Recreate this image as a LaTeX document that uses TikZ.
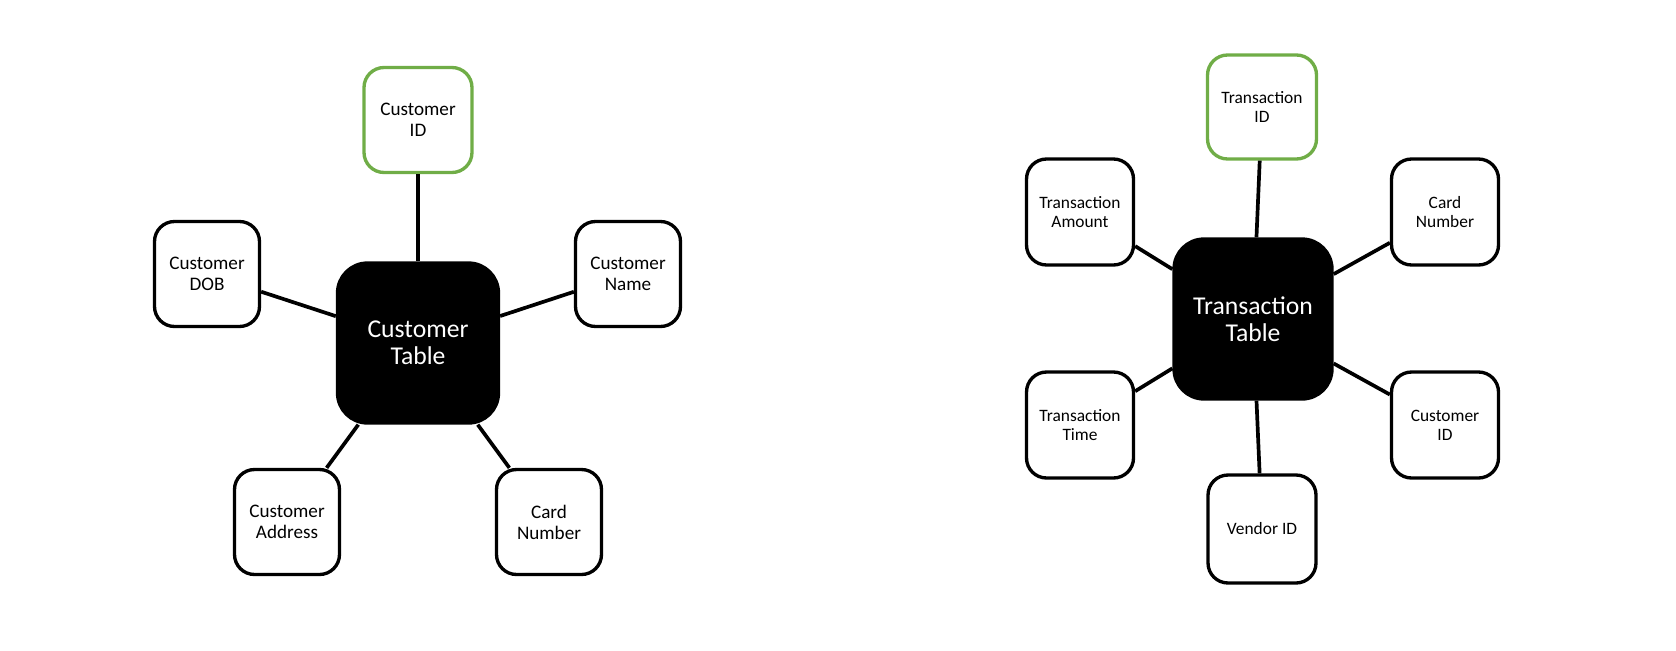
\documentclass[tikz,border=0pt]{standalone}
\usepackage{fontspec}
\setmainfont{Carlito}
\usepackage{xcolor}
\definecolor{vblack}{HTML}{000000}
\definecolor{vgreen}{HTML}{70AD47}

\tikzset{
	field/.style={draw=vblack, line width=1.9pt, rounded corners=0.4cm, fill=white, align=center, inner sep=0pt, minimum width=2.1cm, minimum height=2.1cm, font=\fontsize{10.9}{11.9}\selectfont},
	tfield/.style={field, minimum width=2.14cm, minimum height=2.12cm, font=\fontsize{9.9}{10.8}\selectfont},
	keyfield/.style={draw=vgreen},
	table/.style={fill=vblack, draw=vblack, line width=1.9pt, rounded corners=0.6cm, text=white, align=center, inner sep=0pt, font=\fontsize{14.6}{15.5}\selectfont},
	link/.style={color=vblack, line width=2.1pt}
}

\begin{document}
\begin{tikzpicture}[x=0.02cm, y=-0.02cm]
		\useasboundingbox (0,0) rectangle (1676,650);
		% customer table
		\node[table, minimum width=3.22cm, minimum height=3.2cm] (custTable) at (418,343) {Customer\\Table};
		\node[field, keyfield, minimum width=2.16cm] (custID) at (418,120) {Customer\\ID};
		\node[field] (custDOB) at (207,274) {Customer\\DOB};
		\node[field] (custName) at (628,274) {Customer\\Name};
		\node[field] (custAddr) at (287,522) {Customer\\Address};
		\node[field] (custCard) at (549,522) {Card\\Number};
		\draw[link] (custID) -- (custTable);
		\draw[link] (custDOB) -- (custTable);
		\draw[link] (custName) -- (custTable);
		\draw[link] (custAddr) -- (custTable);
		\draw[link] (custCard) -- (custTable);
		% transaction table
		\node[table, minimum width=3.16cm, minimum height=3.2cm] (tranTable) at (1253,319) {Transaction\\Table};
		\node[tfield, keyfield, minimum width=2.18cm, minimum height=2.08cm] (tranID) at (1262,107) {Transaction\\ID};
		\node[tfield] (tranAmount) at (1080,212) {Transaction\\Amount};
		\node[tfield] (tranCard) at (1445,212) {Card\\Number};
		\node[tfield] (tranTime) at (1080,425) {Transaction\\Time};
		\node[tfield] (tranCust) at (1445,425) {Customer\\ID};
		\node[tfield, minimum width=2.16cm, minimum height=2.16cm] (tranVendor) at (1262,529) {Vendor ID};
		\draw[link] (tranID) -- (tranTable);
		\draw[link] (tranAmount) -- (tranTable);
		\draw[link] (tranCard) -- (tranTable);
		\draw[link] (tranTime) -- (tranTable);
		\draw[link] (tranCust) -- (tranTable);
		\draw[link] (tranVendor) -- (tranTable);
	\end{tikzpicture}
\end{document}
